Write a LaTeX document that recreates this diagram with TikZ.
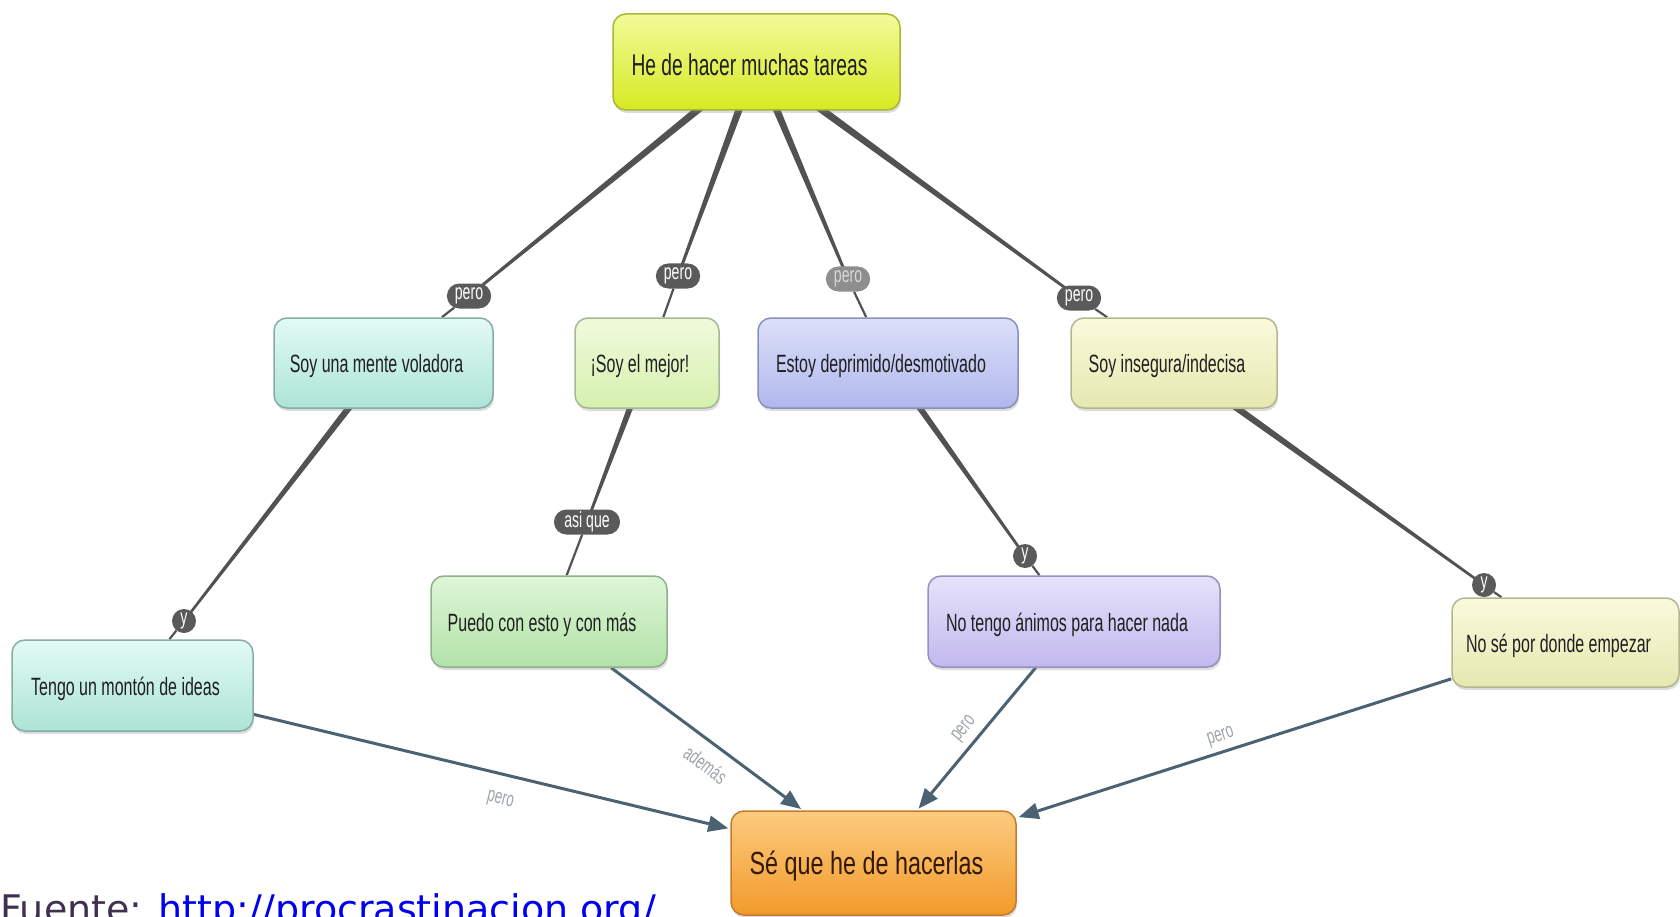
\documentclass[tikz,border=0pt]{standalone}
\usepackage{fontspec}
\setmainfont{Liberation Sans}
\newfontfamily\cf[FakeStretch=0.64]{Liberation Sans}
\newfontfamily\cfs[FakeStretch=0.73]{Liberation Sans}
\newfontfamily\dv{DejaVu Sans}
\usetikzlibrary{shapes.misc,arrows.meta,shadows,backgrounds,calc}
\definecolor{topA}{HTML}{F2FA9A}\definecolor{topB}{HTML}{D6EA22}\definecolor{topD}{HTML}{A8B830}
\definecolor{cyA}{HTML}{E2FAF4}\definecolor{cyB}{HTML}{ACE4D6}\definecolor{cyD}{HTML}{86ACA4}
\definecolor{lgA}{HTML}{F0FADC}\definecolor{lgB}{HTML}{D6F0AE}\definecolor{lgD}{HTML}{A4B894}
\definecolor{gnA}{HTML}{DEF6D8}\definecolor{gnB}{HTML}{B2E2A8}\definecolor{gnD}{HTML}{90B08C}
\definecolor{blA}{HTML}{DCE0FA}\definecolor{blB}{HTML}{B0B8EC}\definecolor{blD}{HTML}{8890BC}
\definecolor{lvA}{HTML}{E6E2FA}\definecolor{lvB}{HTML}{C2B8EE}\definecolor{lvD}{HTML}{9890BC}
\definecolor{ylA}{HTML}{FAFADC}\definecolor{ylB}{HTML}{E6E8B0}\definecolor{ylD}{HTML}{B4B690}
\definecolor{orA}{HTML}{FCCB80}\definecolor{orB}{HTML}{F29A2A}\definecolor{orD}{HTML}{C47C2C}
\definecolor{pillc}{HTML}{5A5A5A}\definecolor{pillL}{HTML}{8E8E8E}
\definecolor{connc}{HTML}{525252}
\definecolor{arrc}{HTML}{4A6272}
\definecolor{lblc}{HTML}{9CA4A8}
\definecolor{fuente}{HTML}{403050}
\definecolor{urlc}{HTML}{0000EE}
\newcommand{\taper}[4]{\fill[connc] ($(#1.center)!#3!90:(#2.center)$) -- ($(#2.center)!#4!-90:(#1.center)$) -- ($(#2.center)!#4!90:(#1.center)$) -- ($(#1.center)!#3!-90:(#2.center)$) -- cycle;}
\newcommand{\lw}[1]{\raisebox{-3pt}[\height][\depth]{#1}\hspace*{14pt}}
\tikzset{
  concept/.style n args={3}{rectangle, rounded corners=13pt, top color=#1, bottom color=#2,
    draw=#3, line width=1.5pt, inner sep=0pt, text=black!88,
    drop shadow={shadow xshift=1pt, shadow yshift=-3pt, opacity=0.28}},
  midfont/.style={font=\cf\fontsize{25}{30}\selectfont},
  pill/.style={rounded rectangle, fill=pillc, text=white, font=\cf\fontsize{22}{26}\selectfont,
    inner xsep=5pt, inner ysep=2pt, minimum height=25pt},
  ycirc/.style={circle, fill=pillc, text=white, font=\cf\fontsize{22}{26}\selectfont,
    inner sep=0pt, minimum size=24pt},
  thinconn/.style={draw=connc, line width=2.2pt},
  arrline/.style={draw=arrc, line width=3pt, -{Triangle[length=20pt,width=16pt]}, shorten >=2pt},
  lbl/.style={text=lblc, font=\cf\fontsize{21}{24}\selectfont, inner sep=0pt, sloped}
}
\begin{document}
\begin{tikzpicture}[x=1pt,y=-1pt]
\useasboundingbox (0,0) rectangle (1680,917);
% concepts
\node[concept={topA}{topB}{topD}, minimum width=287pt, minimum height=96pt, font=\cf\fontsize{30}{36}\selectfont] (top) at (756.5,62) {\lw{He de hacer muchas tareas}};
\node[concept={cyA}{cyB}{cyD}, midfont, minimum width=219pt, minimum height=90pt] (n1) at (383.5,363) {\lw{Soy una mente voladora}};
\node[concept={lgA}{lgB}{lgD}, midfont, minimum width=144pt, minimum height=90pt] (n2) at (647,363) {\lw{¡Soy el mejor!}};
\node[concept={blA}{blB}{blD}, midfont, minimum width=260pt, minimum height=90pt] (n3) at (888,363) {\lw{Estoy deprimido/desmotivado}};
\node[concept={ylA}{ylB}{ylD}, midfont, minimum width=206pt, minimum height=90pt] (n4) at (1174,363) {\lw{Soy insegura/indecisa}};
\node[concept={cyA}{cyB}{cyD}, midfont, minimum width=241pt, minimum height=91pt] (n5) at (132.5,685.5) {\lw{Tengo un montón de ideas}};
\node[concept={gnA}{gnB}{gnD}, midfont, minimum width=236pt, minimum height=91pt] (n6) at (549,621.5) {\lw{Puedo con esto y con más}};
\node[concept={lvA}{lvB}{lvD}, midfont, minimum width=292pt, minimum height=91pt] (n7) at (1074,621.5) {\lw{No tengo ánimos para hacer nada}};
\node[concept={ylA}{ylB}{ylD}, midfont, minimum width=227pt, minimum height=89pt] (n8) at (1565.5,642.5) {\lw{No sé por donde empezar}};
\node[concept={orA}{orB}{orD}, minimum width=285pt, minimum height=104pt, font=\cfs\fontsize{32}{38}\selectfont, text=black!80!orange] (se) at (873.5,863) {\lw{Sé que he de hacerlas}};
% linking phrases
\node[pill] (p1) at (469,296) {pero};
\node[pill] (p2) at (678,276) {pero};
\node[pill, fill=pillL, text=white!85!black] (p3) at (848,279) {pero};
\node[pill] (p4) at (1079,298) {pero};
\node[pill] (p5) at (587,522) {asi que};
\node[ycirc] (y1) at (184,621) {y};
\node[ycirc] (y2) at (1025,556) {y};
\node[ycirc] (y3) at (1484,585) {y};
% source
\node[anchor=base west, inner sep=0pt, font=\dv\fontsize{38}{42}\selectfont] (src) at (0,922) {\textcolor{fuente}{Fuente:} \textcolor{urlc}{http://procrastinacion.org/}};
% connectors
\begin{scope}[on background layer]
\taper{top}{p1}{4.2pt}{1.3pt}
\taper{top}{p2}{4.2pt}{1.3pt}
\taper{top}{p3}{4.2pt}{1.3pt}
\taper{top}{p4}{4.2pt}{1.3pt}
\taper{n1}{y1}{3.6pt}{1.2pt}
\taper{n2}{p5}{3.6pt}{1.2pt}
\taper{n3}{y2}{3.6pt}{1.2pt}
\taper{n4}{y3}{3.8pt}{1.2pt}
\draw[thinconn] (p1) -- (n1);
\draw[thinconn] (p2) -- (n2);
\draw[thinconn] (p3) -- (n3);
\draw[thinconn] (p4) -- (n4);
\draw[thinconn] (y1) -- (n5);
\draw[thinconn] (p5) -- (n6);
\draw[thinconn] (y2) -- (n7);
\draw[thinconn] (y3) -- (n8);
\draw[arrline] (n5) -- node[lbl, pos=0.53, below=17pt] {pero} (se);
\draw[arrline] (n6) -- node[lbl, pos=0.56, below=12pt] {además} (se);
\draw[arrline] (n7) -- node[lbl, pos=0.5, above=6pt] {pero} (se);
\draw[arrline] (n8) -- node[lbl, pos=0.52, above=5pt] {pero} (se);
\end{scope}
\end{tikzpicture}
\end{document}
